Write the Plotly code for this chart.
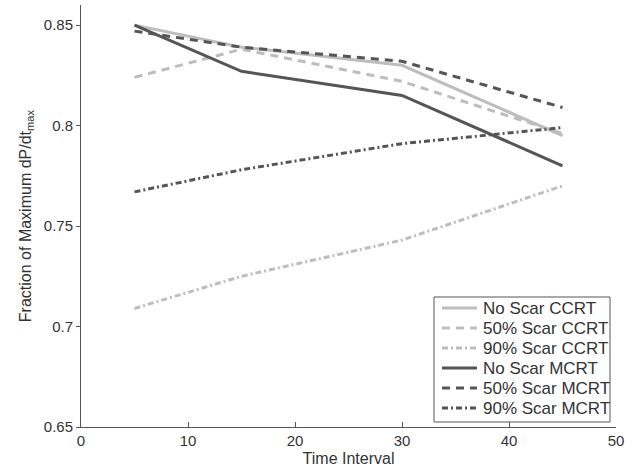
import plotly.graph_objects as go

x_vals = [5, 15, 30, 45]
no_scar_ccrt = [0.850, 0.839, 0.830, 0.795]
scar50_ccrt = [0.824, 0.838, 0.822, 0.796]
scar90_ccrt = [0.709, 0.725, 0.743, 0.770]
no_scar_mcrt = [0.850, 0.827, 0.815, 0.780]
scar50_mcrt = [0.847, 0.839, 0.832, 0.809]
scar90_mcrt = [0.767, 0.778, 0.791, 0.799]

names = ["No Scar CCRT", "50% Scar CCRT", "90% Scar CCRT",
         "No Scar MCRT", "50% Scar MCRT", "90% Scar MCRT"]
series = [no_scar_ccrt, scar50_ccrt, scar90_ccrt, no_scar_mcrt, scar50_mcrt, scar90_mcrt]
light = "#bdbdbd"
dark = "#555555"
colors = [light, light, light, dark, dark, dark]
dashes = ["solid", "8px,6px", "6px,3px,2px,3px", "solid", "8px,6px", "6px,3px,2px,3px"]

fig = go.Figure()
for n, s, c, d in zip(names, series, colors, dashes):
    fig.add_trace(go.Scatter(x=x_vals, y=s, mode="lines", name=n,
                             line=dict(color=c, width=3, dash=d),
                             showlegend=False))

# Legend box drawn in paper coordinates (layout element, not data)
W, H = 642, 471
L, R, T, B = 81, 26, 5, 44
pw, ph = W - L - R, H - T - B


def px(xp):
    return (xp - L) / pw


def py(yp):
    return (H - B - yp) / ph


shapes = [dict(type="rect", xref="paper", yref="paper",
               x0=px(434), x1=px(610), y0=py(422), y1=py(297),
               line=dict(color="#555555", width=1), fillcolor="white", layer="above")]
annotations = []
row_y = [308, 328, 348, 368, 388, 408]
for n, c, d, ry in zip(names, colors, dashes, row_y):
    shapes.append(dict(type="line", xref="paper", yref="paper",
                       x0=px(442), x1=px(477), y0=py(ry), y1=py(ry),
                       line=dict(color=c, width=3, dash=d), layer="above"))
    annotations.append(dict(xref="paper", yref="paper", x=px(481), y=py(ry),
                            xanchor="left", yanchor="middle", text=n, showarrow=False,
                            font=dict(size=17, color="#333333")))

font = "Liberation Sans, Arial, sans-serif"
fig.update_layout(
    width=W, height=H,
    margin=dict(l=L, r=R, t=T, b=B),
    paper_bgcolor="white", plot_bgcolor="white",
    font=dict(family=font, size=15, color="#333333"),
    showlegend=False,
    shapes=shapes,
    annotations=annotations,
    xaxis=dict(range=[0, 50], tickvals=[0, 10, 20, 30, 40, 50],
               showgrid=False, zeroline=False, showline=True,
               linecolor="#555555", linewidth=1, ticks="inside",
               ticklen=5, tickcolor="#555555",
               title=dict(text="Time Interval", standoff=4, font=dict(size=16))),
    yaxis=dict(range=[0.65, 0.86], tickvals=[0.65, 0.7, 0.75, 0.8, 0.85],
               ticktext=["0.65", "0.7", "0.75", "0.8", "0.85"],
               showgrid=False, zeroline=False, showline=True,
               linecolor="#555555", linewidth=1, ticks="outside",
               ticklen=4, tickcolor="#555555",
               title=dict(text="Fraction of Maximum dP/dt<sub>max</sub>",
                          standoff=8, font=dict(size=16))),
)
fig.write_html("out.html")
